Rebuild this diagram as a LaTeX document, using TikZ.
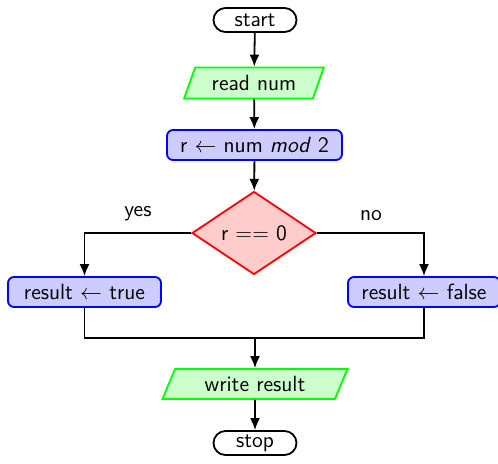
\documentclass[tikz,border=0pt]{standalone}
\usetikzlibrary{shapes.geometric,arrows.meta}
\begin{document}
\begin{tikzpicture}[x=0.5pt,y=-0.5pt,
  font=\sffamily\fontsize{11pt}{13pt}\selectfont,
  every node/.style={inner sep=0pt},
  link/.style={draw=black, line width=0.9pt},
  arr/.style={link, -{Latex[length=6pt,width=5pt]}},
  term/.style={draw=black, line width=0.9pt, rounded corners=6pt, minimum width=41.5pt, minimum height=12pt},
  io/.style={trapezium, trapezium left angle=63, trapezium right angle=117, trapezium stretches=true,
    draw={rgb,255:red,0;green,255;blue,0}, fill=green!20, line width=0.9pt, minimum height=15.5pt},
  proc/.style={draw=blue, fill=blue!20, line width=0.9pt, rounded corners=3pt, minimum height=15pt},
  test/.style={diamond, draw=red, fill=red!20, line width=0.9pt, minimum width=62pt, minimum height=41.5pt}
]
\useasboundingbox (0,0) rectangle (498,463);

\node[term] (start) at (255,20) {start};
\node[io, minimum width=70pt] (read) at (254,83) {read num};
\node[proc, minimum width=87.5pt] (mod) at (254.5,145) {r $\leftarrow$ num \textit{mod} 2};
\node[test] (dec) at (254,233) {r == 0};
\node[proc, minimum width=76.5pt] (rt) at (84.5,292) {result $\leftarrow$ true};
\node[proc, minimum width=76pt] (rf) at (424,292) {result $\leftarrow$ false};
\node[io, minimum width=93pt, minimum height=15pt] (write) at (255,384) {write result};
\node[term] (stop) at (255,443) {stop};

\node (yes) at (138,214) {yes};
\node (no) at (371,216) {no};

\coordinate (join) at (255,338);

\draw[arr] (start) -- (read);
\draw[arr] (read) -- (mod);
\draw[arr] (mod) -- (dec);
\draw[arr] (dec.west) -| (rt.north);
\draw[arr] (dec.east) -| (rf.north);
\draw[link] (rt.south) |- (join) -| (rf.south);
\draw[arr] (join) -- (write);
\draw[arr] (write) -- (stop);
\end{tikzpicture}
\end{document}
